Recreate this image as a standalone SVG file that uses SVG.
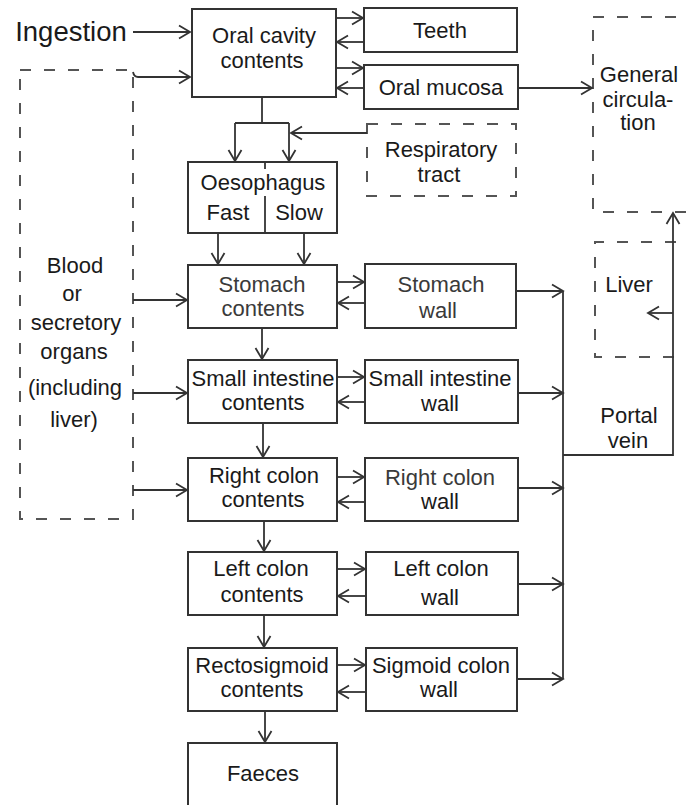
<svg xmlns="http://www.w3.org/2000/svg" width="687" height="805" viewBox="0 0 687 805">
<style>
text{font-family:"Liberation Sans",Arial,sans-serif;font-size:22px;fill:#1a1a1a;text-anchor:middle}
.big{font-size:27.5px}
.b{fill:#fff;stroke:#333;stroke-width:2}
.d{fill:none;stroke:#555;stroke-width:2;stroke-dasharray:11 13}
.c{fill:none;stroke:#333;stroke-width:1.8}
.ca{fill:none;stroke:#333;stroke-width:1.8;marker-end:url(#a)}
.l{fill:#3a3a3a}
</style>
<defs>
<marker id="a" markerWidth="14" markerHeight="16" refX="12" refY="8" orient="auto" markerUnits="userSpaceOnUse">
<path d="M1,1.5 L12,8 L1,14.5" fill="none" stroke="#333" stroke-width="1.8"/>
</marker>
</defs>
<rect width="687" height="805" fill="#fff"/>

<g id="ingestion"><text class="big" x="71" y="41">Ingestion</text></g>

<g id="oral-cavity"><rect class="b" x="192" y="9" width="144" height="88"/><text x="264" y="43">Oral cavity</text><text x="262" y="68">contents</text></g>
<g id="teeth"><rect class="b" x="364" y="8" width="153" height="44"/><text x="440" y="38">Teeth</text></g>
<g id="oral-mucosa"><rect class="b" x="364" y="65" width="154" height="44"/><text x="441" y="95">Oral mucosa</text></g>
<g id="general-circulation"><path class="d" d="M700,17 H593 V212 H700"/><text x="639" y="82">General</text><text x="638" y="107">circula-</text><text x="638" y="130">tion</text></g>
<g id="respiratory"><rect class="d" x="367" y="124" width="149" height="72"/><text x="441" y="157">Respiratory</text><text x="439" y="182">tract</text></g>
<g id="blood"><rect class="d" x="20" y="70" width="113" height="449"/><text x="75" y="273">Blood</text><text x="72" y="301">or</text><text x="76" y="330">secretory</text><text x="74" y="359">organs</text><text x="75" y="395">(including</text><text x="74" y="427">liver)</text></g>
<g id="oesophagus"><rect class="b" x="188" y="162" width="149" height="71"/><line class="c" x1="265" y1="162" x2="265" y2="169"/><line class="c" x1="265" y1="196" x2="265" y2="233"/><text x="263" y="190">Oesophagus</text><text x="228" y="220">Fast</text><text x="299" y="220">Slow</text></g>
<g id="stomach-contents"><rect class="b" x="188" y="265" width="149" height="63"/><text class="l" x="262" y="292">Stomach</text><text class="l" x="263" y="316">contents</text></g>
<g id="stomach-wall"><rect class="b" x="365" y="264" width="151" height="64"/><text class="l" x="441" y="292">Stomach</text><text class="l" x="438" y="318">wall</text></g>
<g id="si-contents"><rect class="b" x="188" y="360" width="149" height="63"/><text x="263" y="386">Small intestine</text><text x="263" y="410">contents</text></g>
<g id="si-wall"><rect class="b" x="365" y="360" width="153" height="63"/><text x="440" y="386">Small intestine</text><text x="440" y="411">wall</text></g>
<g id="rc-contents"><rect class="b" x="188" y="458" width="149" height="63"/><text x="264" y="483">Right colon</text><text x="263" y="507">contents</text></g>
<g id="rc-wall"><rect class="b" x="365" y="458" width="153" height="63"/><text class="l" x="440" y="485">Right colon</text><text x="440" y="509">wall</text></g>
<g id="lc-contents"><rect class="b" x="188" y="552" width="149" height="63"/><text x="261" y="576">Left colon</text><text x="262" y="602">contents</text></g>
<g id="lc-wall"><rect class="b" x="366" y="552" width="152" height="63"/><text x="441" y="576">Left colon</text><text x="440" y="605">wall</text></g>
<g id="rs-contents"><rect class="b" x="188" y="648" width="149" height="63"/><text x="262" y="673">Rectosigmoid</text><text x="262" y="697">contents</text></g>
<g id="sc-wall"><rect class="b" x="366" y="648" width="151" height="63"/><text x="441" y="673">Sigmoid colon</text><text x="439" y="697">wall</text></g>
<g id="faeces"><rect class="b" x="188" y="743" width="149" height="80"/><text x="263" y="781">Faeces</text></g>
<g id="liver"><path class="d" d="M700,242 H595 V357 H700"/><text x="629" y="292">Liver</text></g>
<g id="portal-label"><text x="629" y="423">Portal</text><text x="628" y="448">vein</text></g>

<g id="connectors">
<line class="ca" x1="133" y1="32" x2="190" y2="32"/>
<path class="ca" d="M133,72 Q134,77 138,77 H190"/>
<line class="ca" x1="336" y1="18" x2="363" y2="18"/>
<line class="ca" x1="364" y1="42" x2="337" y2="42"/>
<line class="ca" x1="336" y1="68" x2="363" y2="68"/>
<line class="ca" x1="364" y1="88" x2="337" y2="88"/>
<line class="ca" x1="518" y1="88" x2="592" y2="88"/>
<line class="c" x1="262" y1="97" x2="262" y2="123"/>
<line class="c" x1="235" y1="123" x2="289" y2="123"/>
<line class="ca" x1="235" y1="123" x2="235" y2="161"/>
<line class="ca" x1="289" y1="123" x2="289" y2="161"/>
<line class="ca" x1="367" y1="133" x2="291" y2="133"/>
<line class="ca" x1="218" y1="233" x2="218" y2="264"/>
<line class="ca" x1="304" y1="233" x2="304" y2="264"/>
<line class="ca" x1="133" y1="300" x2="187" y2="300"/>
<line class="ca" x1="133" y1="393" x2="187" y2="393"/>
<line class="ca" x1="133" y1="490" x2="187" y2="490"/>
<line class="ca" x1="262" y1="328" x2="262" y2="359"/>
<line class="ca" x1="263" y1="423" x2="263" y2="457"/>
<line class="ca" x1="264" y1="521" x2="264" y2="551"/>
<line class="ca" x1="264" y1="615" x2="264" y2="647"/>
<line class="ca" x1="265" y1="711" x2="265" y2="742"/>
<line class="ca" x1="337" y1="282" x2="364" y2="282"/>
<line class="ca" x1="365" y1="303" x2="338" y2="303"/>
<line class="ca" x1="337" y1="377" x2="364" y2="377"/>
<line class="ca" x1="365" y1="402" x2="338" y2="402"/>
<line class="ca" x1="337" y1="477" x2="364" y2="477"/>
<line class="ca" x1="365" y1="502" x2="338" y2="502"/>
<line class="ca" x1="337" y1="569" x2="365" y2="569"/>
<line class="ca" x1="366" y1="596" x2="338" y2="596"/>
<line class="ca" x1="337" y1="665" x2="365" y2="665"/>
<line class="ca" x1="366" y1="692" x2="338" y2="692"/>
<line class="ca" x1="516" y1="291" x2="563" y2="291"/>
<line class="ca" x1="518" y1="393" x2="563" y2="393"/>
<line class="ca" x1="518" y1="488" x2="563" y2="488"/>
<line class="ca" x1="518" y1="584" x2="563" y2="584"/>
<line class="ca" x1="517" y1="679" x2="563" y2="679"/>
<line class="c" x1="563" y1="291" x2="563" y2="679"/>
<path class="ca" d="M563,455 H673 V213"/>
<line class="ca" x1="673" y1="313" x2="648" y2="313"/>
</g>
</svg>
